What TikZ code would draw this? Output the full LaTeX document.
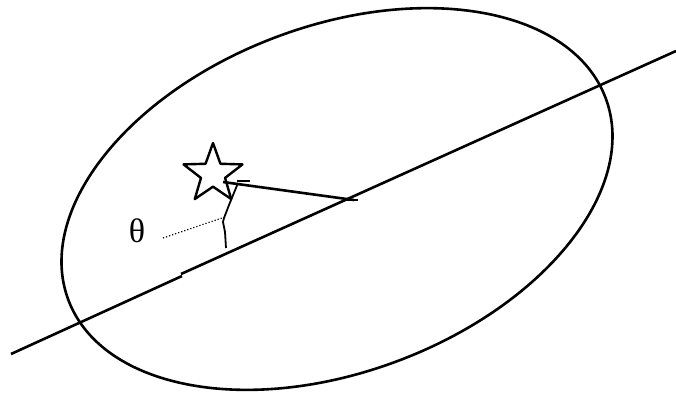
\documentclass[tikz,border=0pt]{standalone}
\usepackage{fontspec}
\setmainfont{Liberation Serif}
\usetikzlibrary{shapes.geometric}
\begin{document}
\begin{tikzpicture}[x=1pt,y=-1pt,line join=round,
  ink/.style={line width=2.6pt,black},
  thin ink/.style={line width=1.8pt,black}]
\useasboundingbox (0,0) rectangle (676,394);
% ellipse
\coordinate (C) at (337,199);
\draw[ink,rotate around={20.6:(C)}] (C) ellipse [x radius=287pt, y radius=173pt];
% main axis with a small break
\coordinate (L0) at (11,354);
\coordinate (L1) at (182,276);
\coordinate (L2) at (181,274);
\coordinate (L3) at (676,51);
\draw[ink] (L0) -- (L1);
\draw[ink] (L2) -- (L3);
% star
\node[star,star points=5,star point ratio=2.45,minimum size=62pt,inner sep=0pt,
      draw,line width=2.4pt] (S) at (213,174) {};
% radius from star to axis
\coordinate (P) at (223,182);
\coordinate (Q) at (354,200);
\draw[ink] (P) -- (Q);
\draw[ink] (237,181) -- (250,181);
\draw[ink] (347,200) -- (358,200);
% wiggly vertical line
\draw[thin ink] (238,183) -- (229,205) -- (224,218) -- (223,222) -- (225,232) -- (226,248);
% dotted leader
\coordinate (D0) at (163,238);
\coordinate (D1) at (222,218);
\draw[line width=1.2pt,dotted] (D0) -- (D1);
% label
\node[font=\fontsize{34}{36}\selectfont,inner sep=0pt] (T) at (137,231) {θ};
\end{tikzpicture}
\end{document}
